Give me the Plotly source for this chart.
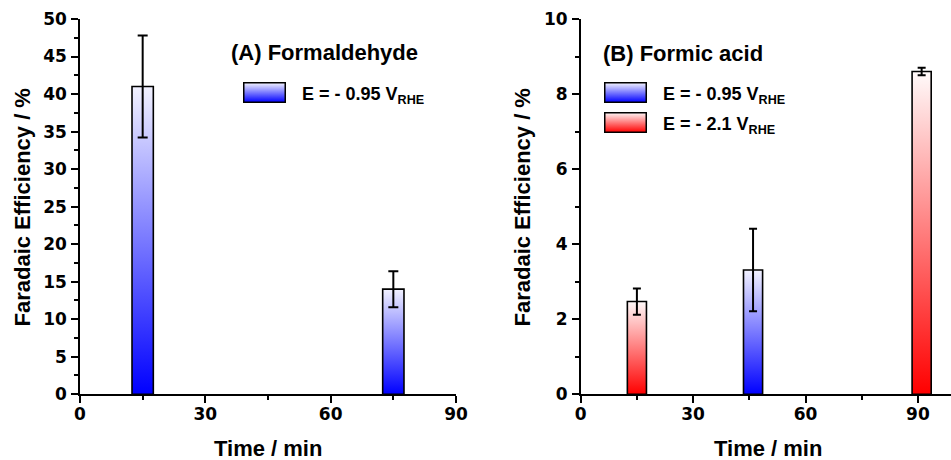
import base64
import plotly.graph_objects as go

# ---------------- data ----------------
time_A = [15, 75]
fe_A = [41.0, 14.0]
err_A = [6.8, 2.4]
pot_A = ["-0.95", "-0.95"]

time_B = [15, 46, 91]
fe_B = [2.47, 3.31, 8.6]
err_B = [0.35, 1.1, 0.1]
pot_B = ["-2.1", "-0.95", "-2.1"]

x_ticks = [0, 30, 60, 90]
legend_A = ["-0.95"]
legend_B = ["-0.95", "-2.1"]

# ---------------- style ----------------
W, H = 951, 460
BAR_W = 5.1
FONT = "Liberation Sans, Arial, sans-serif"
TICK_FONT = "DejaVu Sans"
SCALES = {
    "-0.95": [[0, "rgb(0,0,255)"], [1, "rgb(242,242,255)"]],
    "-2.1": [[0, "rgb(255,0,0)"], [1, "rgb(255,250,250)"]],
}
STOPS = {"-0.95": ("#0000ff", "#f4f4ff"), "-2.1": ("#ff0000", "#fff6f6")}


def px(x):
    return x / W


def py(y):
    return 1 - y / H


fig = go.Figure()


def add_bars(times, vals, errs, pots, xa, ya, capw):
    for t, v, p in zip(times, vals, pots):
        h = BAR_W / 2
        fig.add_trace(go.Scatter(
            x=[t - h, t + h, t + h, t - h, t - h], y=[0, 0, v, v, 0],
            mode="lines", fill="toself",
            fillgradient=dict(type="vertical", colorscale=SCALES[p]),
            line=dict(color="black", width=1.6),
            xaxis=xa, yaxis=ya, showlegend=False, hoverinfo="skip"))
    fig.add_trace(go.Scatter(
        x=times, y=vals, mode="markers",
        marker=dict(size=1, color="rgba(0,0,0,0)"),
        error_y=dict(type="data", array=errs, visible=True, color="black",
                     thickness=2, width=capw),
        xaxis=xa, yaxis=ya, showlegend=False))


add_bars(time_A, fe_A, err_A, pot_A, "x", "y", 5)
add_bars(time_B, fe_B, err_B, pot_B, "x2", "y2", 4)

tickfont = dict(family=TICK_FONT, size=17, color="black", weight=700)
ydom = [py(394.2), py(19)]
xdomA = [px(80), px(456)]
xdomB = [px(580.7), 1.0]
rngA = [0, 90]
rngB = [0, (W - 580.7) / (112.4 / 30)]


def base_axis(**kw):
    d = dict(showline=True, linecolor="black", linewidth=1.5, showgrid=False,
             zeroline=False, tickcolor="black", tickwidth=1.5, ticklen=7,
             tickfont=tickfont, tickmode="linear", tick0=0, automargin=False)
    d.update(kw)
    return d


def xaxis_main(dom, rng, anchor):
    return base_axis(domain=dom, range=rng, anchor=anchor, dtick=30, ticks="outside",
                     ticklabelstandoff=-3,
                     minor=dict(dtick=15, ticks="outside", ticklen=4, tickwidth=1.5, tickcolor="black"))


def yaxis_main(rng, anchor, dt, mdt):
    return base_axis(domain=ydom, range=rng, anchor=anchor, dtick=dt, ticks="outside",
                     ticklabelstandoff=1,
                     minor=dict(dtick=mdt, ticks="outside", ticklen=4, tickwidth=1.5, tickcolor="black"))


fig.update_layout(
    width=W, height=H, margin=dict(l=0, r=0, t=0, b=0),
    paper_bgcolor="white", plot_bgcolor="white", showlegend=False,
    xaxis=xaxis_main(xdomA, rngA, "y"),
    yaxis=yaxis_main([0, 50], "x", 5, 2.5),
    xaxis2=xaxis_main(xdomB, rngB, "y2"),
    yaxis2=yaxis_main([0, 10], "x2", 2, 1),
    xaxis3=base_axis(overlaying="x", side="top", anchor="y", range=rngA, dtick=30,
                     ticks="inside", showticklabels=False,
                     minor=dict(dtick=15, ticks="inside", ticklen=4, tickwidth=1.5, tickcolor="black")),
    yaxis3=base_axis(overlaying="y", side="right", anchor="x", range=[0, 50], dtick=5,
                     ticks="inside", showticklabels=False,
                     minor=dict(dtick=2.5, ticks="inside", ticklen=4, tickwidth=1.5, tickcolor="black")),
    xaxis4=base_axis(overlaying="x2", side="top", anchor="y2", range=rngB, dtick=30,
                     ticks="inside", showticklabels=False,
                     minor=dict(dtick=15, ticks="inside", ticklen=4, tickwidth=1.5, tickcolor="black")),
    yaxis4=base_axis(overlaying="y2", side="right", anchor="x2", range=[0, 10], dtick=2,
                     ticks="inside", ticklen=4, showticklabels=False, showline=False),
)

title_font = dict(family=FONT, size=22, color="black", weight="bold")
leg_font = dict(family=FONT, size=18, color="black", weight="bold")

ann = []
for cx in (22, 522):
    ann.append(dict(text="Faradaic Efficiency / %", textangle=-90, x=px(cx), y=py(207.5),
                    xref="paper", yref="paper", showarrow=False, font=title_font,
                    xanchor="center", yanchor="middle"))
for cx in (267.5, 767.5):
    ann.append(dict(text="Time / min", x=px(cx), y=py(448.5), xref="paper", yref="paper",
                    showarrow=False, font=title_font, xanchor="center", yanchor="middle"))
ann.append(dict(text="(A) Formaldehyde", x=px(229), y=py(52), xref="paper", yref="paper",
                showarrow=False, font=title_font, xanchor="left", yanchor="middle"))
ann.append(dict(text="(B) Formic acid", x=px(601), y=py(53), xref="paper", yref="paper",
                showarrow=False, font=title_font, xanchor="left", yanchor="middle"))


def legend_img(p):
    c0, c1 = STOPS[p]
    svg = ('<svg xmlns="http://www.w3.org/2000/svg" width="43" height="21" viewBox="0 0 43 21">'
           '<defs><linearGradient id="g" x1="0" y1="1" x2="0" y2="0">'
           f'<stop offset="0" stop-color="{c0}"/><stop offset="1" stop-color="{c1}"/>'
           '</linearGradient></defs>'
           '<rect x="0.75" y="0.75" width="41.5" height="19.5" fill="url(#g)" '
           'stroke="black" stroke-width="1.5"/></svg>')
    return "data:image/svg+xml;base64," + base64.b64encode(svg.encode()).decode()


images = []
entries = [(243, 82, 300, p) for p in legend_A]
entries += [(604, 82 + 30 * i, 661, p) for i, p in enumerate(legend_B)]
for bx, by, tx, p in entries:
    images.append(dict(source=legend_img(p), xref="paper", yref="paper", x=px(bx), y=py(by),
                       sizex=43 / W, sizey=21 / H, xanchor="left", yanchor="top",
                       sizing="stretch", layer="above"))
    ann.append(dict(text=f"E = - {p.lstrip('-')} V<sub>RHE</sub>", x=px(tx), y=py(by + 13),
                    xref="paper", yref="paper", showarrow=False, font=leg_font,
                    xanchor="left", yanchor="middle"))

fig.update_layout(annotations=ann, images=images)
fig.write_html("out.html")
